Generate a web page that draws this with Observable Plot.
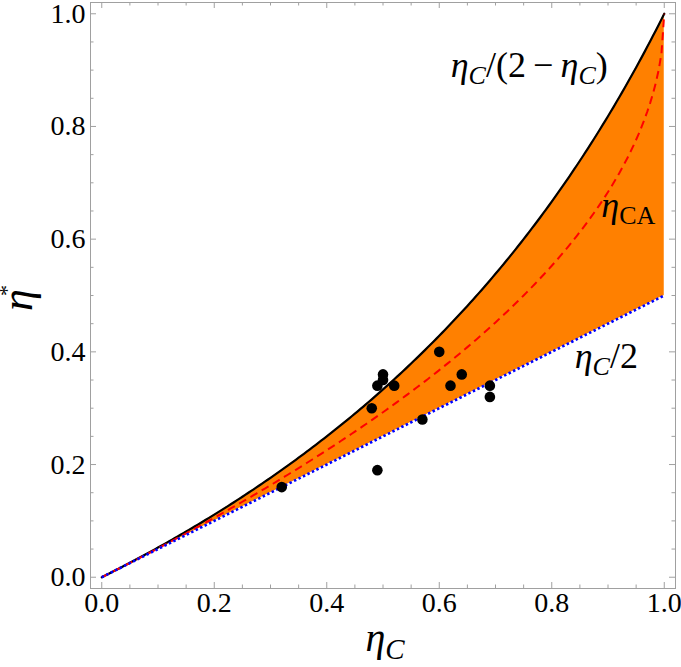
<!DOCTYPE html>
<html>
<head>
<meta charset="utf-8">
<script src="https://cdn.jsdelivr.net/npm/d3@7"></script>
<script src="https://cdn.jsdelivr.net/npm/@observablehq/plot@0.6"></script>
<style>
  html, body { margin: 0; padding: 0; background: #fff; }
  #chart { width: 681px; height: 667px; }
</style>
</head>
<body>
<div id="chart"></div>
<script>
// ---- data ----
// observed points (eta_C, eta*)
const obsEtaC = [0.32, 0.49, 0.48, 0.49, 0.50, 0.50, 0.52, 0.57, 0.60, 0.62, 0.64, 0.69, 0.69];
const obsEta  = [0.16, 0.19, 0.30, 0.34, 0.36, 0.35, 0.34, 0.28, 0.40, 0.34, 0.36, 0.34, 0.32];
// theoretical bounds, drawn from the formulas printed on the chart
const etaCGrid = d3.range(0, 201).map(i => i / 200);
const upperBound = etaCGrid.map(c => c / (2 - c));              // eta_C/(2-eta_C)
const curzonAhlborn = etaCGrid.map(c => 1 - Math.sqrt(1 - c));  // eta_CA
const lowerBound = etaCGrid.map(c => c / 2);                    // eta_C/2
// ticks
const majorTicks = [0, 0.2, 0.4, 0.6, 0.8, 1.0];
const minorTicks = [0.05,0.1,0.15,0.25,0.3,0.35,0.45,0.5,0.55,0.65,0.7,0.75,0.85,0.9,0.95];
// annotations: position in data units + segments
const annX = [0.760, 0.936, 0.897];
const annY = [0.908, 0.66, 0.392];
const annSegs = [
  [["η","i"],["C","isub"],["/(2\u2009−\u2009",""],["η","i"],["C","isub"],[")",""]],
  [["η","i"],["CA","sub"]],
  [["η","i"],["C","isub"],["/2",""]]
];
const annPlain = annSegs.map(s => s.map(p => p[0]).join(""));

// ---- layout ----
const W = 681, H = 667, mL = 90, mR = 6, mT = 2, mB = 79;
const dom = [-0.02, 1.02];
const pxX = (W - mL - mR) / (dom[1] - dom[0]);
const pxY = (H - mT - mB) / (dom[1] - dom[0]);
const gray = "#a0a0a0";
const majLen = 6, minLen = 3.5;
const serif = "'Liberation Serif', 'Times New Roman', serif";
const annSize = 36;

const curves = etaCGrid.map((c, i) => ({c, up: upperBound[i], ca: curzonAhlborn[i], lo: lowerBound[i]}));
const pts = obsEtaC.map((c, i) => ({c, e: obsEta[i]}));
const ann = annX.map((x, i) => ({x, y: annY[i], id: i}));

function tickRulesX(ticks, len) {
  return [
    Plot.ruleX(ticks, {x: d => d, y1: dom[0], y2: dom[0] + len / pxY, stroke: gray, strokeWidth: 1}),
    Plot.ruleX(ticks, {x: d => d, y1: dom[1], y2: dom[1] - len / pxY, stroke: gray, strokeWidth: 1})
  ];
}
function tickRulesY(ticks, len) {
  return [
    Plot.ruleY(ticks, {y: d => d, x1: dom[0], x2: dom[0] + len / pxX, stroke: gray, strokeWidth: 1}),
    Plot.ruleY(ticks, {y: d => d, x1: dom[1], x2: dom[1] - len / pxX, stroke: gray, strokeWidth: 1})
  ];
}

const chart = Plot.plot({
  width: W, height: H,
  marginLeft: mL, marginRight: mR, marginTop: mT, marginBottom: mB,
  style: {fontFamily: serif, background: "#fff", overflow: "visible"},
  x: {domain: dom},
  y: {domain: dom},
  marks: [
    Plot.areaY(curves, {x: "c", y1: "lo", y2: "up", fill: "#ff8000", curve: "linear"}),
    Plot.line(curves, {x: "c", y: "up", stroke: "#000", strokeWidth: 2.2}),
    Plot.line(curves, {x: "c", y: "ca", stroke: "#ff0000", strokeWidth: 2, strokeDasharray: "8,5", strokeLinecap: "butt"}),
    Plot.line(curves, {x: "c", y: "lo", stroke: "#0000ff", strokeWidth: 2.6, strokeDasharray: "2.5,2.5", strokeLinecap: "butt"}),
    Plot.dot(pts, {x: "c", y: "e", r: 5.3, fill: "#000", stroke: "none"}),
    Plot.frame({stroke: gray, strokeWidth: 1}),
    ...tickRulesX(majorTicks, majLen), ...tickRulesX(minorTicks, minLen),
    ...tickRulesY(majorTicks, majLen), ...tickRulesY(minorTicks, minLen),
    Plot.axisX({ticks: majorTicks, tickSize: 0, tickPadding: 4, tickFormat: d3.format(".1f"), fontSize: 28, label: null, fill: "#000"}),
    Plot.axisY({ticks: majorTicks, tickSize: 0, tickPadding: 5, tickFormat: d3.format(".1f"), fontSize: 28, label: null, fill: "#000"}),
    Plot.text(ann, {x: "x", y: "y", text: d => annPlain[d.id], fontSize: annSize, fill: "#000", textAnchor: "middle"})
  ]
});

document.getElementById("chart").appendChild(chart);

// rich text for annotations (subscripts / italics)
function fillSegs(sel, segs, size) {
  sel.text(null);
  let shifted = false;
  segs.forEach(([t, k]) => {
    const ts = sel.append("tspan").text(t);
    const isSub = k.includes("sub");
    if (k.includes("i")) ts.attr("font-style", "italic");
    if (isSub) ts.attr("font-size", Math.round(size * 0.72));
    if (isSub && !shifted) { ts.attr("dy", size * 0.2); shifted = true; }
    else if (!isSub && shifted) { ts.attr("dy", -size * 0.2); shifted = false; }
  });
}
const svg = d3.select(chart.tagName.toLowerCase() === "svg" ? chart : chart.querySelector("svg"));
svg.selectAll("text").each(function() {
  const idx = annPlain.indexOf(this.textContent);
  if (idx >= 0) {
    const s = d3.select(this);
    s.attr("font-family", serif).attr("font-size", annSize);
    fillSegs(s, annSegs[idx], annSize);
  }
});

// axis titles
const xl = svg.append("text")
  .attr("x", 385).attr("y", 651)
  .attr("text-anchor", "middle")
  .attr("font-family", serif)
  .attr("font-size", 40).attr("fill", "#000");
fillSegs(xl, [["η","i"],["C","isub"]], 40);

const yl = svg.append("text")
  .attr("transform", "translate(32,298) rotate(-90)")
  .attr("text-anchor", "middle")
  .attr("font-family", serif)
  .attr("font-size", 44).attr("fill", "#000");
yl.append("tspan").attr("font-style", "italic").text("η");
yl.append("tspan").attr("font-size", 22).attr("dx", -7).attr("dy", -18).text("*");
</script>
</body>
</html>
